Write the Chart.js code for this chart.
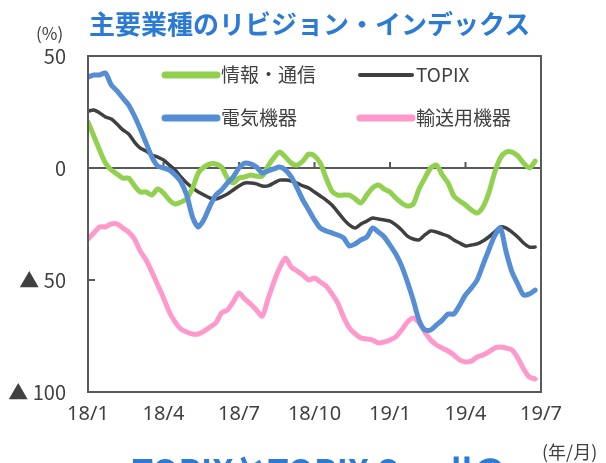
<!DOCTYPE html>
<html>
<head>
<meta charset="utf-8">
<script src="https://cdn.jsdelivr.net/npm/chart.js@4"></script>
<style>
  body { margin: 0; background: #fff; }
  #wrap { position: relative; width: 606px; height: 463px; overflow: hidden; font-family: "Noto Sans CJK JP", "Noto Sans", sans-serif; }
  #chart { position: absolute; left: 0; top: 0; }
  .txt { position: absolute; white-space: nowrap; color: #404040; }
  #title { left: 89px; top: 4px; font-size: 26px; font-weight: bold; color: #2b7bd6; }
  #unitY { left: 36px; top: 20px; font-size: 17px; }
  #unitX { left: 542px; top: 438px; font-size: 18px; }
  #next { left: 132px; top: 445px; font-size: 34px; font-weight: bold; color: #2b7bd6; }
</style>
</head>
<body>
<div id="wrap">
  <canvas id="chart" width="606" height="463"></canvas>
  <div class="txt" id="title">主要業種のリビジョン・インデックス</div>
  <div class="txt" id="unitY">(%)</div>
  <div class="txt" id="unitX">(年/月)</div>
  <div class="txt" id="next">TOPIXとTOPIX Smallの</div>
</div>
<script>
// weekly points from 2018/1 (week 0) to 2019/7 (week 78)
const xTickLabels = ['18/1', '18/4', '18/7', '18/10', '19/1', '19/4', '19/7'];
const seriesNames = ['情報・通信', 'TOPIX', '電気機器', '輸送用機器'];

const info = [20.5, 14.3, 8.0, 2.2, -0.9, -2.7, -4.5, -4.5, -8.0, -10.7, -10.7, -12.1, -9.4, -11.2, -14.3, -16.1, -15.2, -13.8, -8.9, -2.2,
  0.4, 1.8, 1.8, 0.4, -4.5, -6.7, -4.5, -4.0, -3.1, -3.6, -3.6, 0.9, 4.5, 7.1, 4.9, 2.2, 1.3, 3.1, 6.2, 5.4,
  2.2, -4.5, -10.3, -12.1, -12.1, -12.1, -13.8, -15.6, -12.1, -8.9, -7.6, -9.4, -10.7, -13.4, -15.6, -17.0, -16.1, -9.4, -4.5, 0,
  1.3, -3.1, -6.7, -12.5, -14.7, -16.5, -18.7, -20.1, -17.4, -11.2, -2.2, 4.5, 7.1, 7.1, 5.4, 2.2, 0, 3.1];
const topix = [25.4, 25.9, 24.6, 22.8, 21.9, 19.6, 17.0, 15.2, 11.6, 8.9, 7.6, 5.8, 4.9, 3.6, 1.3, -0.9, -4.0, -6.7, -8.9, -10.7,
  -12.1, -13.4, -13.8, -12.9, -11.6, -9.8, -8.0, -6.7, -6.7, -7.1, -8.0, -8.0, -6.7, -5.4, -5.4, -5.8, -6.7, -8.0, -8.9, -10.7,
  -12.5, -14.3, -16.5, -19.6, -22.8, -25.4, -26.8, -25.0, -23.7, -22.3, -22.8, -23.2, -23.7, -25.4, -27.7, -30.4, -31.7, -32.1, -29.9, -28.1,
  -28.6, -29.5, -30.4, -32.1, -33.5, -34.8, -34.4, -33.9, -32.6, -30.8, -28.6, -26.3, -26.8, -28.6, -30.8, -33.5, -35.3, -35.3];
const electric = [40.6, 41.5, 41.5, 42.4, 37.1, 34.4, 31.2, 28.1, 23.2, 17.4, 11.2, 4.9, 0.9, 0, -0.9, -3.1, -6.2, -12.1, -21.9, -26.3,
  -22.8, -17.0, -12.1, -9.8, -6.7, -4.0, 0, 2.2, 1.8, 0.4, -2.2, -1.3, -0.4, 0.4, -0.9, -4.0, -8.9, -14.3, -18.7, -23.2,
  -26.8, -28.1, -29.0, -29.9, -31.2, -34.8, -33.9, -32.1, -30.8, -26.8, -28.6, -30.8, -34.4, -38.4, -43.7, -50.9, -58.9, -67.9, -72.3, -72.3,
  -70.1, -67.9, -65.2, -65.2, -61.2, -56.7, -53.6, -50.0, -43.3, -36.6, -30.4, -26.8, -37.5, -46.4, -51.8, -56.7, -56.2, -54.5];
const transport = [-31.7, -29.0, -26.3, -26.3, -25.0, -25.0, -26.8, -28.6, -31.7, -37.1, -41.1, -46.4, -52.2, -58.0, -64.3, -68.8, -71.9, -73.2, -74.1, -74.1,
  -72.8, -71.0, -69.2, -64.7, -63.4, -59.8, -55.8, -58.5, -60.7, -63.4, -66.1, -58.5, -50.9, -44.6, -40.2, -44.2, -46.0, -47.8, -50.0, -49.1,
  -50.9, -52.7, -56.2, -60.3, -66.5, -71.4, -74.1, -75.9, -76.3, -76.8, -78.1, -77.7, -76.8, -75.4, -72.3, -68.8, -67.0, -69.2, -73.2, -76.8,
  -79.0, -80.4, -81.7, -83.5, -85.7, -86.6, -86.2, -84.4, -83.5, -82.1, -80.4, -79.9, -80.4, -81.2, -84.8, -89.7, -93.3, -94.2];

const colors = ['#92d050', '#404040', '#558ed5', '#ff99cc'];
const widths = [5, 3.5, 5, 5];
const drawOrder = [2, 3, 0, 1];
const allSeries = [info, topix, electric, transport];

const toPoints = arr => arr.map((v, i) => ({ x: i, y: v }));

// frame, zero line, small ticks and the legend
const framePlugin = {
  id: 'frame',
  beforeDatasetsDraw(chart) {
    const { ctx, chartArea: a, scales } = chart;
    const y0 = scales.y.getPixelForValue(0);
    ctx.save();
    ctx.strokeStyle = '#595959';
    ctx.lineWidth = 2;
    ctx.beginPath();
    ctx.moveTo(a.left, y0); ctx.lineTo(a.right, y0);
    for (let i = 1; i < xTickLabels.length - 1; i++) {
      const x = scales.x.getPixelForValue(i * 13);
      ctx.moveTo(x, y0); ctx.lineTo(x, y0 - 6);
    }
    const yM = scales.y.getPixelForValue(-50);
    ctx.moveTo(a.left, yM); ctx.lineTo(a.left + 7, yM);
    ctx.stroke();
    ctx.restore();
  },
  afterDraw(chart) {
    const { ctx, chartArea: a } = chart;
    ctx.save();
    ctx.strokeStyle = '#595959';
    ctx.lineWidth = 2;
    ctx.strokeRect(a.left, a.top, a.right - a.left, a.bottom - a.top);
    // legend: two columns, two rows
    const cols = [165, 360];
    const rows = [75, 118];
    const slots = [[0, 0], [1, 0], [0, 1], [1, 1]];
    ctx.font = '19px "Noto Sans CJK JP", sans-serif';
    ctx.textBaseline = 'middle';
    seriesNames.forEach((name, i) => {
      const x = cols[slots[i][0]], y = rows[slots[i][1]];
      ctx.strokeStyle = colors[i];
      ctx.lineWidth = i === 1 ? 4 : 7;
      ctx.lineCap = 'round';
      ctx.beginPath();
      ctx.moveTo(x, y); ctx.lineTo(x + 52, y);
      ctx.stroke();
      ctx.fillStyle = '#404040';
      ctx.fillText(name, x + 56, y);
    });
    ctx.restore();
  }
};

new Chart(document.getElementById('chart'), {
  type: 'line',
  data: {
    datasets: seriesNames.map((name, i) => ({
      label: name,
      data: toPoints(allSeries[i]),
      borderColor: colors[i],
      borderWidth: widths[i],
      pointRadius: 0,
      tension: 0.25,
      borderJoinStyle: 'round',
      borderCapStyle: 'round',
      fill: false,
      order: drawOrder[i]
    }))
  },
  options: {
    responsive: false,
    animation: false,
    layout: { padding: { left: 0, top: 56, right: 65, bottom: 0 } },
    plugins: { legend: { display: false }, tooltip: { enabled: false } },
    scales: {
      x: {
        type: 'linear',
        min: 0,
        max: 78,
        grid: { display: false, drawTicks: false },
        border: { display: false },
        afterFit(scale) { scale.height = 71; },
        afterBuildTicks(scale) {
          scale.ticks = xTickLabels.map((_, i) => ({ value: i * 13 }));
        },
        ticks: {
          callback: (v) => xTickLabels[Math.round(v / 13)],
          color: '#404040',
          font: { size: 20, family: '"Noto Sans", sans-serif' },
          padding: 10,
          maxRotation: 0,
          autoSkip: false
        }
      },
      y: {
        min: -100,
        max: 50,
        grid: { display: false, drawTicks: false },
        border: { display: false },
        afterFit(scale) { scale.width = 88; },
        ticks: {
          stepSize: 50,
          callback: (v) => v < 0 ? '▲ ' + Math.abs(v) : String(v),
          color: '#404040',
          font: { size: 20, family: '"Noto Sans CJK JP", sans-serif' },
          padding: 22
        }
      }
    }
  },
  plugins: [framePlugin]
});
</script>
</body>
</html>
